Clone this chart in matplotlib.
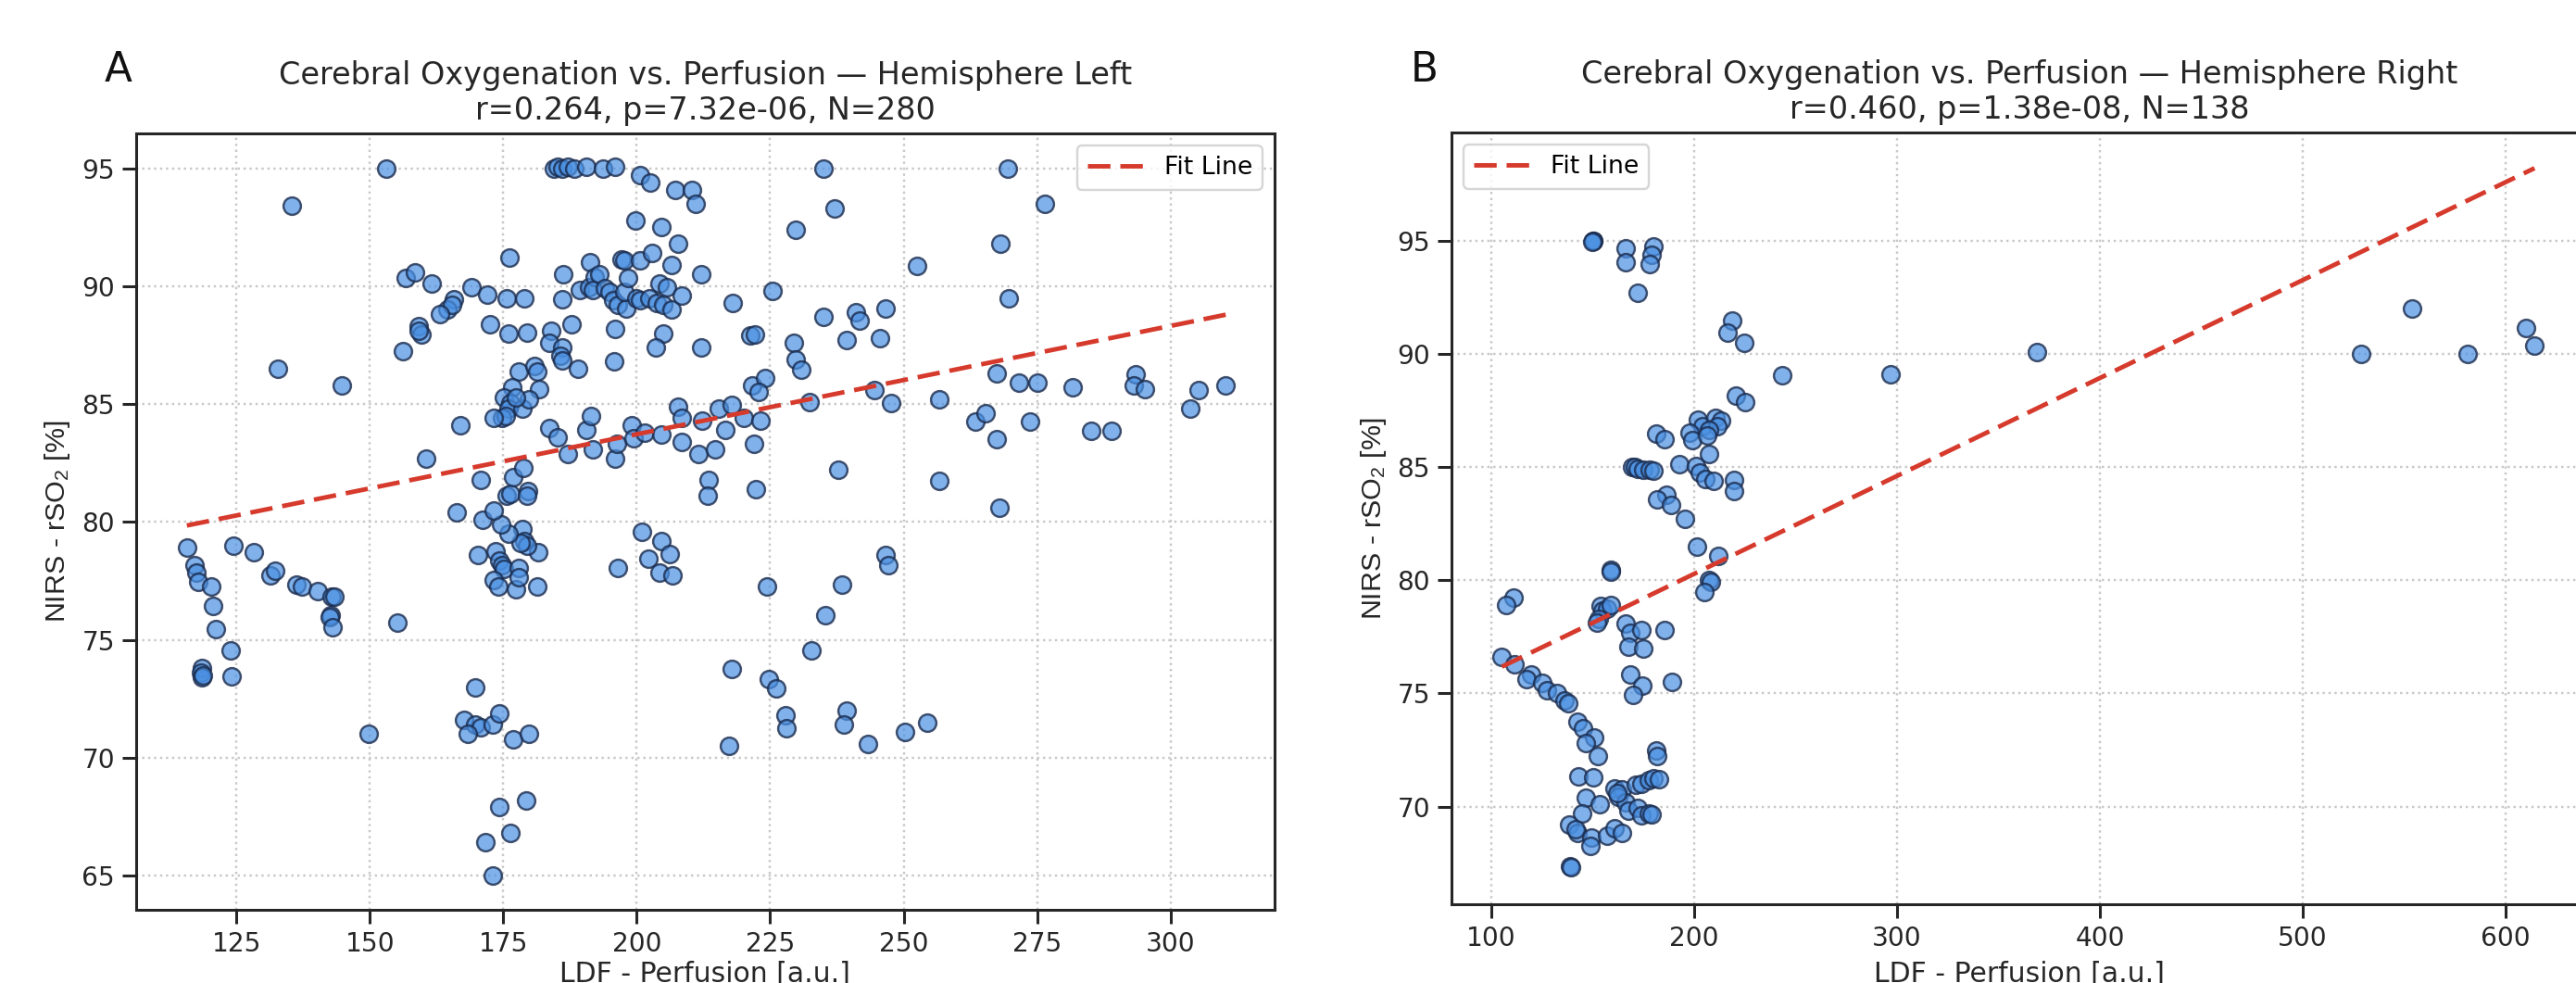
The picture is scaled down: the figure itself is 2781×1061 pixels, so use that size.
import matplotlib.pyplot as plt
import numpy as np

plt.rcParams['font.family'] = ['DejaVu Sans']
plt.rcParams['mathtext.default'] = 'regular'

# --- Hemisphere Left: LDF perfusion vs. NIRS rSO2 ---
left_x = [
    115.7, 117.1, 117.4, 117.9, 120.2, 120.6, 121.2, 123.9, 118.5, 118.4, 118.6, 118.7,
    124.1, 124.5, 128.2, 131.3, 132.2, 136.3, 137.3, 140.2, 142.9, 143.3, 142.7, 142.5,
    143.0, 155.2, 149.7, 166.2, 170.7, 171.2, 170.3, 173.5, 174.3, 174.7, 175.1, 173.2,
    174.0, 177.4, 177.8, 177.8, 181.3, 181.5, 178.6, 178.9, 179.5, 178.2, 175.9, 174.6,
    173.2, 175.6, 176.3, 179.7, 179.5, 176.9, 178.7, 196.4, 200.9, 204.6, 206.1, 202.2,
    204.2, 206.7, 213.5, 213.3, 222.4, 224.4, 169.7, 167.6, 169.7, 170.8, 168.3, 173.0,
    174.3, 176.9, 179.8, 217.8, 217.2, 224.8, 226.1, 174.2, 179.2, 176.3, 171.6, 173.0,
    153.0, 135.3, 132.8, 144.7, 160.6, 166.9,
    184.4, 185.2, 186.0, 187.1, 188.3, 190.6, 193.7, 196.0, 200.7, 202.5, 207.3, 210.4,
    211.0, 199.7, 204.6, 207.7, 176.1, 191.2, 197.2, 197.6, 200.7, 202.8, 206.5, 212.1,
    156.7, 158.4, 161.5, 169.1, 172.0, 175.6, 179.0, 186.2, 186.0,
    189.4, 191.0, 192.2, 193.0, 191.8, 194.1, 194.9, 195.6, 196.4, 198.0, 197.6, 198.4,
    199.9, 200.7, 202.3, 204.2, 205.7, 203.8, 205.0, 206.5, 208.5, 218.0, 225.5,
    165.8, 164.6, 165.4, 163.1, 159.2, 159.6, 159.2, 156.1, 172.5, 175.9, 179.5, 184.0,
    187.7, 183.6, 186.0, 185.7, 186.0, 189.0, 196.0, 195.8, 205.0, 203.6, 212.1, 221.2,
    222.2, 177.8, 180.9, 181.3, 181.7, 176.6, 175.1, 176.3, 175.9, 174.7, 175.5, 173.2,
    178.6, 179.8, 177.4, 183.6, 185.2, 190.6, 191.4, 187.1, 191.8, 196.0, 196.3, 199.1,
    199.4, 201.5, 207.7, 208.4, 204.6, 208.4, 211.5, 214.7, 212.3, 215.4, 217.8, 216.6,
    220.1, 223.2, 221.9, 221.6, 224.0, 222.8,
    234.9, 237.1, 229.7, 234.9, 241.0, 241.8, 246.6, 239.3, 245.6, 252.6, 269.5, 276.5,
    268.1, 269.7, 229.5, 229.7, 230.9, 244.5, 232.3, 247.6, 256.7, 267.4, 271.6, 275.1,
    281.7, 293.4, 293.1, 295.3, 305.2, 310.4, 303.7, 263.5, 265.4, 273.7, 267.5, 285.2,
    288.9, 237.7, 256.7,
    268.0, 246.6, 247.2, 238.5, 235.4, 232.8, 227.8, 228.0, 239.3, 238.8, 243.3, 250.3,
    254.4,
]
left_y = [
    78.9, 78.15, 77.85, 77.45, 77.25, 76.45, 75.45, 74.55, 73.8, 73.6, 73.4, 73.5,
    73.45, 79.0, 78.7, 77.75, 77.95, 77.35, 77.25, 77.05, 76.85, 76.85, 76.05, 75.95,
    75.55, 75.75, 71.0, 80.4, 81.8, 80.1, 78.6, 78.75, 78.35, 78.15, 78.0, 77.55,
    77.25, 77.15, 78.05, 77.65, 77.25, 78.7, 79.7, 79.2, 79.0, 79.1, 79.5, 79.9,
    80.5, 81.1, 81.2, 81.3, 81.1, 81.9, 82.3, 78.05, 79.6, 79.2, 78.65, 78.45,
    77.85, 77.75, 81.8, 81.1, 81.4, 77.25, 73.0, 71.6, 71.4, 71.3, 71.0, 71.4,
    71.9, 70.8, 71.0, 73.75, 70.5, 73.35, 72.95, 67.9, 68.2, 66.8, 66.4, 65.0,
    95.0, 93.4, 86.5, 85.8, 82.7, 84.1,
    95.0, 95.05, 95.0, 95.05, 95.0, 95.05, 95.0, 95.05, 94.7, 94.4, 94.1, 94.1,
    93.5, 92.8, 92.5, 91.8, 91.2, 91.0, 91.15, 91.1, 91.1, 91.4, 90.9, 90.5,
    90.35, 90.6, 90.1, 89.95, 89.65, 89.5, 89.5, 90.5, 89.45,
    89.85, 89.95, 90.4, 90.5, 89.85, 89.9, 89.75, 89.4, 89.2, 89.05, 89.75, 90.35,
    89.5, 89.4, 89.5, 90.1, 89.95, 89.3, 89.2, 89.0, 89.6, 89.3, 89.8,
    89.45, 89.0, 89.2, 88.8, 88.3, 87.95, 88.1, 87.25, 88.4, 88.0, 88.05, 88.1,
    88.4, 87.6, 87.4, 87.05, 86.85, 86.5, 88.2, 86.8, 88.0, 87.4, 87.4, 87.9,
    87.95, 86.4, 86.6, 86.4, 85.65, 85.7, 85.3, 85.05, 84.8, 84.4, 84.5, 84.4,
    84.8, 85.2, 85.3, 84.0, 83.6, 83.9, 84.5, 82.9, 83.1, 82.7, 83.3, 84.1,
    83.55, 83.8, 84.9, 84.4, 83.7, 83.4, 82.9, 83.1, 84.3, 84.8, 84.95, 83.9,
    84.4, 84.3, 83.3, 85.8, 86.1, 85.5,
    95.0, 93.3, 92.4, 88.7, 88.9, 88.55, 89.05, 87.7, 87.8, 90.85, 95.0, 93.5,
    91.8, 89.5, 87.6, 86.9, 86.45, 85.6, 85.1, 85.05, 85.2, 86.3, 85.9, 85.9,
    85.7, 86.25, 85.8, 85.65, 85.6, 85.8, 84.8, 84.25, 84.6, 84.25, 83.5, 83.85,
    83.85, 82.2, 81.75,
    80.6, 78.6, 78.15, 77.35, 76.05, 74.55, 71.8, 71.25, 72.0, 71.4, 70.6, 71.1,
    71.5,
]

# --- Hemisphere Right ---
right_x = [
    150.0, 150.3, 149.7, 166.1, 166.4, 179.7, 179.2, 178.3, 172.2, 218.9, 216.3, 224.7,
    243.4, 297.0, 220.7, 225.2, 201.9, 204.2, 210.7, 213.3, 211.6, 207.2, 197.6, 199.3,
    206.3, 181.5, 185.3, 207.2, 192.7, 169.6, 171.0, 172.2, 174.8, 178.3, 180.1, 201.1,
    202.8, 205.5, 209.8, 219.5, 219.5, 186.2, 181.8, 188.8,
    195.5, 201.4, 211.9, 207.2, 208.1, 204.9, 158.7, 159.1, 110.9, 107.4, 153.8, 154.7,
    157.3, 153.0, 159.1, 152.1, 166.1, 168.7, 174.0, 167.8, 174.8, 185.3, 168.7, 174.5,
    169.9, 189.2, 105.2, 111.5, 119.7, 117.4, 124.9, 127.6, 132.5, 136.0, 137.7, 142.4,
    145.1, 150.7, 146.8, 152.4, 181.5, 181.8, 143.0, 150.0, 146.5, 153.5, 144.7, 160.8,
    164.3, 162.6, 166.1, 167.8, 162.0, 171.3, 174.0, 177.4, 180.1, 182.7, 172.2, 174.0,
    177.4, 179.2, 138.4, 142.4, 141.6, 149.4, 148.9, 157.3, 160.8, 164.3, 138.9, 139.1,
    369.1, 529.0, 553.7, 581.5, 609.9, 614.3,
]
right_y = [
    95.0, 95.0, 94.95, 94.7, 94.05, 94.75, 94.4, 94.0, 92.7, 91.5, 90.95, 90.5,
    89.05, 89.1, 88.15, 87.9, 87.1, 86.8, 87.2, 87.05, 86.8, 86.65, 86.55, 86.2,
    86.4, 86.5, 86.25, 85.6, 85.15, 85.0, 85.0, 84.95, 84.9, 84.9, 84.85, 85.05,
    84.75, 84.5, 84.4, 84.45, 83.95, 83.8, 83.6, 83.35,
    82.7, 81.5, 81.1, 80.0, 79.95, 79.5, 80.45, 80.4, 79.25, 78.9, 78.85, 78.65,
    78.75, 78.3, 78.9, 78.15, 78.1, 77.7, 77.8, 77.05, 77.0, 77.8, 75.85, 75.35,
    74.95, 75.5, 76.6, 76.3, 75.85, 75.65, 75.45, 75.15, 75.0, 74.7, 74.55, 73.75,
    73.45, 73.05, 72.8, 72.25, 72.5, 72.25, 71.35, 71.3, 70.4, 70.1, 69.7, 70.8,
    70.75, 70.45, 70.2, 69.8, 70.6, 70.95, 71.0, 71.15, 71.25, 71.2, 69.95, 69.6,
    69.7, 69.65, 69.2, 68.85, 69.0, 68.65, 68.25, 68.7, 69.05, 68.85, 67.35, 67.3,
    90.1, 90.0, 92.0, 90.0, 91.15, 90.4,
]

# fit lines: (slope, intercept)
left_fit = (0.04593, 74.536)
right_fit = (0.04329, 71.63)

left_title = "Cerebral Oxygenation vs. Perfusion \u2014 Hemisphere Left\nr=0.264, p=7.32e-06, N=280"
right_title = "Cerebral Oxygenation vs. Perfusion \u2014 Hemisphere Right\nr=0.460, p=1.38e-08, N=138"

INK = '#262626'


def draw_panel(ax, x, y, fit, title, legend_loc, xticks, yticks, xlim, ylim, xpad):
    x = np.array(x)
    y = np.array(y)
    ax.grid(True, linestyle=':', color='#c8c8c8', linewidth=1.0)
    ax.set_axisbelow(True)
    ax.scatter(x, y, s=60, facecolors=(0.29, 0.565, 0.886, 0.7),
               edgecolors=(0.10, 0.17, 0.30, 0.8), linewidths=1.0, zorder=3)
    xs = np.array([x.min(), x.max()])
    ax.plot(xs, fit[0] * xs + fit[1], color='#d63a2c', linewidth=2.0,
            linestyle=(0, (5, 2.2)), label='Fit Line', zorder=4)
    ax.set_xticks(xticks)
    ax.set_yticks(yticks)
    ax.set_xlim(*xlim)
    ax.set_ylim(*ylim)
    ax.set_title(title, fontsize=13.8, color=INK, pad=6)
    ax.set_xlabel('LDF - Perfusion [a.u.]', fontsize=12.3, color=INK, labelpad=xpad)
    ax.set_ylabel('NIRS - rSO$_2$ [%]', fontsize=12.5, color=INK,
                  family='Liberation Sans')
    ax.tick_params(axis='both', direction='out', length=6, width=1.25,
                   labelsize=11.5, colors=INK)
    for sp in ax.spines.values():
        sp.set_linewidth(1.25)
        sp.set_color(INK)
    leg = ax.legend(loc=legend_loc, fontsize=11, handlelength=2.3, fancybox=True)
    leg.get_frame().set_edgecolor('#cccccc')


fig = plt.figure(figsize=(2781 / 175, 1061 / 175), dpi=175)
ax1 = fig.add_axes([0.05286, 0.07446, 0.4419, 0.7898])
ax2 = fig.add_axes([0.5635, 0.0801, 0.4408, 0.7851])

draw_panel(ax1, left_x, left_y, left_fit, left_title, 'upper right',
           [125, 150, 175, 200, 225, 250, 275, 300], [65, 70, 75, 80, 85, 90, 95],
           (106.2, 319.5), (63.55, 96.48), 1.5)
draw_panel(ax2, right_x, right_y, right_fit, right_title, 'upper left',
           [100, 200, 300, 400, 500, 600], [70, 75, 80, 85, 90, 95],
           (80.4, 640.2), (65.68, 99.8), 4)

fig.text(113 / 2781, 1 - 88 / 1061, 'A', fontsize=18, color='#111111')
fig.text(1523 / 2781, 1 - 88 / 1061, 'B', fontsize=18, color='#111111')

fig.savefig('out.png', dpi=175)
